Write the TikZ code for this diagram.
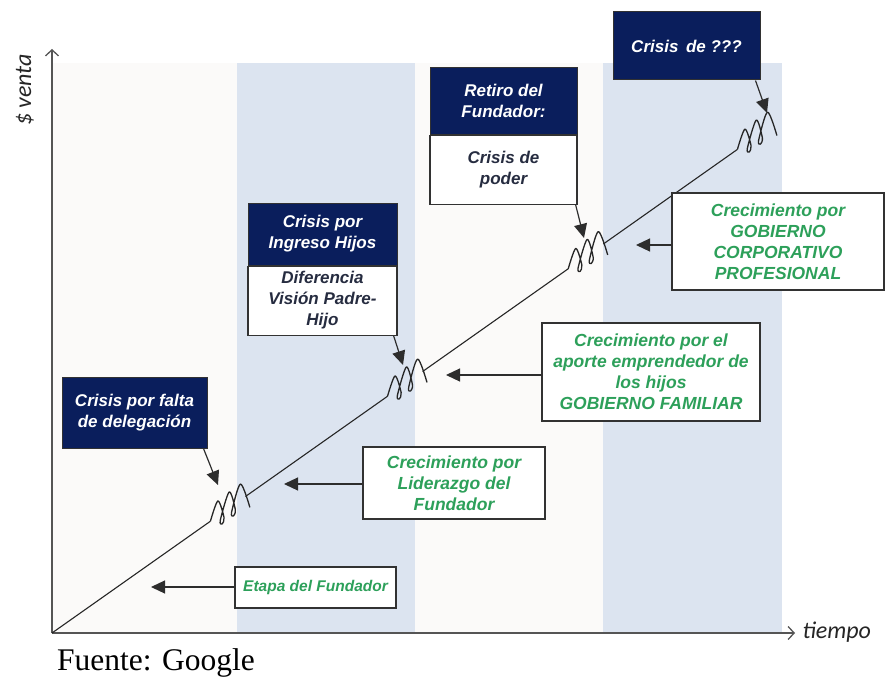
\documentclass[tikz,border=0pt]{standalone}
\usepackage{fontspec}
\usetikzlibrary{arrows.meta,calc}
\newfontfamily\arialfont{Liberation Sans}
\newfontfamily\calfont{Carlito}
\newfontfamily\timesfont{Liberation Serif}
\definecolor{navyc}{RGB}{10,30,92}
\definecolor{bandc}{RGB}{220,228,240}
\definecolor{offw}{RGB}{251,250,249}
\definecolor{greenc}{RGB}{45,160,90}
\definecolor{bodytext}{RGB}{38,44,64}
\definecolor{boxline}{RGB}{50,50,50}
\definecolor{axisc}{RGB}{85,85,85}
\definecolor{arrowc}{RGB}{45,45,45}
\tikzset{
  navy/.style={fill=navyc, draw=boxline, line width=1pt, text=white,
    font=\arialfont\bfseries\itshape\fontsize{17}{21}\selectfont, align=center, inner sep=0pt},
  body/.style={fill=white, draw=boxline, line width=1.2pt, text=bodytext,
    font=\arialfont\bfseries\itshape\fontsize{17}{21}\selectfont, align=center, inner sep=0pt},
  growth/.style={fill=white, draw=boxline, line width=1.2pt, text=greenc,
    font=\arialfont\bfseries\itshape\fontsize{17.5}{21}\selectfont, align=center, inner sep=0pt},
  conn/.style={draw=arrowc, line width=1.2pt, -{Triangle[length=14pt,width=13pt]}},
  axis/.style={draw=axisc, line width=1.8pt, -{Straight Barb[length=6pt,width=13pt,line width=1.3pt]}},
  trunk/.style={draw=black!85, line width=1.1pt},
  slantline/.style={cm={0.817,0.577,0,1,(0,0)}},
  coilpic/.pic={
    \draw[black!85, line width=1.3pt, line join=round]
      plot[smooth, tension=0.5] coordinates {(0,0) (9.2,-15) (16.7,6) (14.4,11) (12.1,6)
        (23,-16) (30.5,6) (28.2,11) (25.9,6) (36.8,-16) (48.3,14)};
  }
}
\begin{document}
\begin{tikzpicture}[x=1pt,y=-1pt]
\useasboundingbox (0,0) rectangle (887,677);
% backgrounds
\fill[offw] (53,63) rectangle (782,632);
\fill[bandc] (237,63) rectangle (415,632);
\fill[bandc] (603,63) rectangle (782,632);
% axes
\coordinate (O) at (52,633);
\coordinate (ytop) at (52,49);
\coordinate (xend) at (795,633);
\draw[axis] (O) -- (ytop);
\draw[axis] (O) -- (xend);
\node[font=\calfont\itshape\fontsize{24}{28}\selectfont, text=black!85, rotate=90] (ylab) at (25,90) {\$ venta};
\node[font=\calfont\itshape\fontsize{24}{28}\selectfont, text=black!85, anchor=west] (xlab) at (799,632) {tiempo};
\node[font=\timesfont\fontsize{31.5}{34}\selectfont, anchor=base west, inner sep=0pt] (src) at (57,670) {Fuente: Google};
% growth line with springs
\coordinate (E) at (772,125);
\coordinate (s1a) at ($(O)!0.220!(E)$);
\coordinate (s1b) at ($(O)!0.2687!(E)$);
\coordinate (s2a) at ($(O)!0.466!(E)$);
\coordinate (s2b) at ($(O)!0.5147!(E)$);
\coordinate (s3a) at ($(O)!0.717!(E)$);
\coordinate (s3b) at ($(O)!0.7657!(E)$);
\coordinate (s4a) at ($(O)!0.952!(E)$);
\draw[trunk] (O) -- (s1a);
\pic[slantline] at (s1a) {coilpic};
\draw[trunk] (s1b) -- (s2a);
\pic[slantline] at (s2a) {coilpic};
\draw[trunk] (s2b) -- (s3a);
\pic[slantline] at (s3a) {coilpic};
\draw[trunk] (s3b) -- (s4a);
\pic[slantline] at (s4a) {coilpic};
% crisis boxes
\node[navy, minimum width=145pt, minimum height=71pt] (A) at (134.5,412.5) {Crisis por falta\\de delegación};
\node[navy, minimum width=149pt, minimum height=62pt] (Bh) at (322.5,234) {Crisis por\\Ingreso Hijos};
\node[body, minimum width=149pt, minimum height=69pt, anchor=north] (Bb) at (Bh.south) {Diferencia\\Visión Padre-\\Hijo};
\node[navy, minimum width=147pt, minimum height=66pt] (Ch) at (503.5,101) {Retiro del\\Fundador:};
\node[body, minimum width=147pt, minimum height=69pt, anchor=north] (Cb) at (Ch.south) {Crisis de\\poder};
\node[navy, minimum width=147pt, minimum height=68pt] (D) at (686.5,46) {Crisis\, de ???};
% growth boxes
\node[growth, minimum width=212pt, minimum height=97pt] (Eg) at (778,241.5) {Crecimiento por\\GOBIERNO\\CORPORATIVO\\PROFESIONAL};
\node[growth, minimum width=218pt, minimum height=98pt] (F) at (651,372) {Crecimiento por el\\aporte emprendedor de\\los hijos\\GOBIERNO FAMILIAR};
\node[growth, minimum width=182pt, minimum height=72pt] (G) at (454,483) {Crecimiento por\\Liderazgo del\\Fundador};
\node[growth, font=\arialfont\bfseries\itshape\fontsize{15.5}{19}\selectfont, minimum width=161pt, minimum height=41pt] (H) at (315.5,587.5) {Etapa del Fundador};
% arrow targets
\coordinate (tA) at (218,485);
\coordinate (tB) at (403,365);
\coordinate (tC) at (584,238);
\coordinate (tD) at (767,113);
\coordinate (tE) at (636,245);
\coordinate (tF) at (446,375);
\coordinate (tG) at (284,484);
\coordinate (tH) at (151,587);
% connectors
\draw[conn] ($(A.south east)+(-4,0)$) -- (tA);
\draw[conn] ($(Bb.south east)+(-4,0)$) -- (tB);
\draw[conn] ($(Cb.south east)+(-2,0)$) -- (tC);
\draw[conn] ($(D.south east)+(-5,0)$) -- (tD);
\draw[conn] (Eg.west |- tE) -- (tE);
\draw[conn] (F.west |- tF) -- (tF);
\draw[conn] (G.west |- tG) -- (tG);
\draw[conn] (H.west |- tH) -- (tH);
\end{tikzpicture}
\end{document}
